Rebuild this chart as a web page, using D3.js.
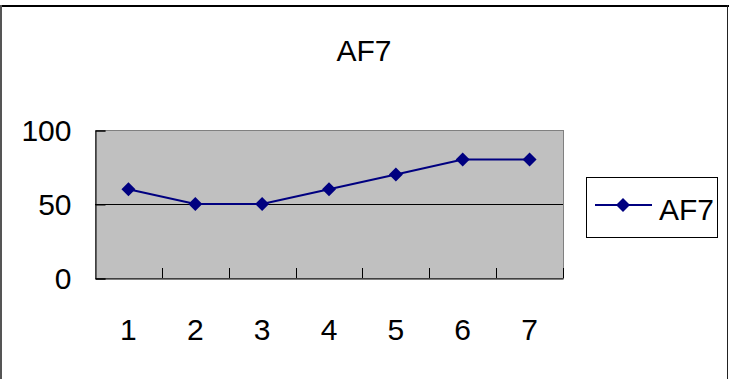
<!DOCTYPE html>
<html>
<head>
<meta charset="utf-8">
<script src="https://cdn.jsdelivr.net/npm/d3@7"></script>
<style>
html,body{margin:0;padding:0;background:#fff;}
svg{display:block;}
text{font-family:"Liberation Sans",Arial,sans-serif;fill:#000;}
</style>
</head>
<body>
<svg id="chart" width="729" height="379"></svg>
<script>
const title = "AF7";
const categories = ["1","2","3","4","5","6","7"];
const seriesName = "AF7";
const values = [60, 50, 50, 60, 70, 80, 80];
const yTicks = [0, 50, 100];

const svg = d3.select("#chart");
const W = 729, H = 379;

// chart area border
svg.append("rect").attr("x",0).attr("y",0).attr("width",W).attr("height",H).attr("fill","#fff");
svg.append("line").attr("x1",0).attr("x2",729).attr("y1",6).attr("y2",6).attr("stroke","#000").attr("stroke-width",2);
svg.append("line").attr("x1",1).attr("x2",1).attr("y1",5).attr("y2",379).attr("stroke","#555").attr("stroke-width",2);
svg.append("line").attr("x1",727.5).attr("x2",727.5).attr("y1",5).attr("y2",379).attr("stroke","#222").attr("stroke-width",1);

const plot = {left:95, right:563, top:130, bottom:278};

const x = d3.scaleBand().domain(categories).range([plot.left, plot.right]).padding(0);
const y = d3.scaleLinear().domain([0,100]).range([plot.bottom, plot.top]);

// plot area
svg.append("rect")
  .attr("x",plot.left).attr("y",plot.top)
  .attr("width",plot.right-plot.left).attr("height",plot.bottom-plot.top)
  .attr("fill","#C0C0C0").attr("stroke","#808080").attr("stroke-width",1)
  .attr("shape-rendering","crispEdges");

// gridlines
svg.append("g").selectAll("line").data(yTicks.filter(d=>d>0 && d<100)).join("line")
  .attr("x1",plot.left).attr("x2",plot.right)
  .attr("y1",d=>Math.round(y(d))+0.5).attr("y2",d=>Math.round(y(d))+0.5)
  .attr("stroke","#000").attr("stroke-width",1);

// y axis
const yAxis = d3.axisLeft(y).tickValues(yTicks).tickSize(-10).tickPadding(32).tickFormat(d3.format("d"));
const gy = svg.append("g").attr("transform",`translate(${plot.left+0.5},0.5)`).call(yAxis);
gy.select(".domain").attr("stroke","#000");
gy.selectAll(".tick line").attr("stroke","#000");
gy.selectAll("text").attr("font-size",30).attr("font-family","Liberation Sans, Arial, sans-serif").attr("fill","#000").attr("dy","0.34em").attr("dx","8");

// x axis (ticks between categories, pointing inward)
const xAxis = d3.axisBottom(x).tickSize(0).tickPadding(30);
const gx = svg.append("g").attr("transform",`translate(0,${plot.bottom+0.5})`).call(xAxis);
gx.select(".domain").attr("stroke","#000");
gx.selectAll("text").attr("font-size",30).attr("font-family","Liberation Sans, Arial, sans-serif").attr("fill","#000").attr("dy","0.71em").attr("y",40);
const boundaries = categories.map(c=>x(c)).slice(1).concat([plot.right]);
svg.append("g").selectAll("line").data(boundaries).join("line")
  .attr("x1",d=>Math.round(d)+0.5).attr("x2",d=>Math.round(d)+0.5)
  .attr("y1",plot.bottom).attr("y2",plot.bottom-10)
  .attr("stroke","#000");

// line
const cx = d=>x(d)+x.bandwidth()/2;
const line = d3.line().x((d,i)=>cx(categories[i])).y(d=>y(d));
svg.append("path").datum(values).attr("d",line).attr("fill","none").attr("stroke","#000080").attr("stroke-width",2);

svg.append("g").selectAll("path").data(values).join("path")
  .attr("d", "M0,-7L7,0L0,7L-7,0Z")
  .attr("transform",(d,i)=>`translate(${cx(categories[i])},${y(d)})`)
  .attr("fill","#000080");

// title
svg.append("text").attr("x",364).attr("y",61).attr("text-anchor","middle").attr("font-size",30).text(title);

// legend
const lg = svg.append("g");
lg.append("rect").attr("x",586.5).attr("y",177.5).attr("width",131).attr("height",60)
  .attr("fill","#fff").attr("stroke","#000").attr("stroke-width",1);
lg.append("line").attr("x1",595).attr("x2",652).attr("y1",205).attr("y2",205).attr("stroke","#000080").attr("stroke-width",2);
lg.append("path").attr("d","M0,-7L7,0L0,7L-7,0Z").attr("transform","translate(623,205)").attr("fill","#000080");
lg.append("text").attr("x",659).attr("y",220).attr("font-size",30).text(seriesName);
</script>
</body>
</html>
